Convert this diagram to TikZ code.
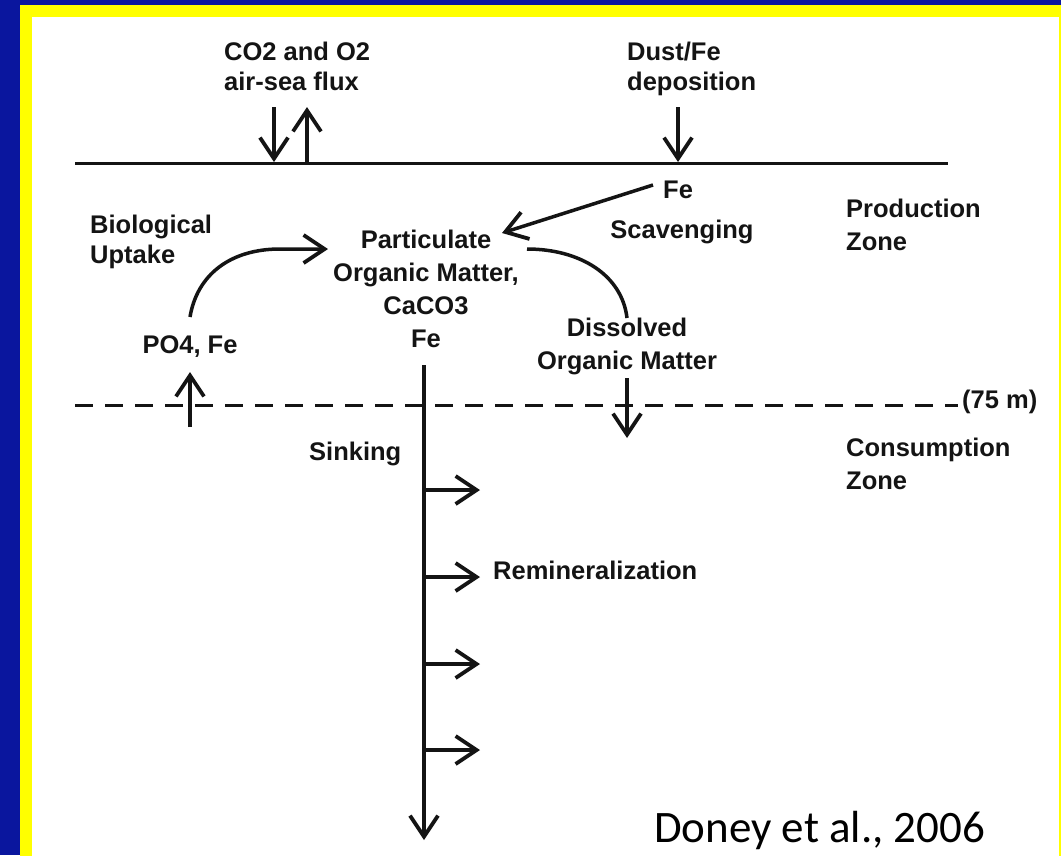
\documentclass[tikz,border=0pt]{standalone}
\usepackage{fontspec}
\setmainfont{Liberation Sans}
\newfontfamily\doneyfont{Carlito}
\usetikzlibrary{arrows.meta}
\definecolor{bgblue}{HTML}{0A169E}
\definecolor{frameyellow}{HTML}{FFFF00}
\definecolor{ink}{HTML}{141414}
\begin{document}
\begin{tikzpicture}[x=1pt,y=-1pt,
  lbl/.style={font=\fontsize{25.5}{33}\selectfont\bfseries, text=ink, inner sep=0pt, align=left},
  lbltight/.style={lbl, font=\fontsize{25.5}{30}\selectfont\bfseries},
  lblc/.style={lbl, align=center},
  flow/.style={draw=ink, line width=3.5pt},
  arr/.style={flow, -{Straight Barb[length=21pt,width=28pt,line width=3.8pt]}},
  surface/.style={draw=ink, line width=3pt},
  boundary/.style={draw=ink, line width=3pt, dash pattern=on 18pt off 12pt}
]
% background and frame
\useasboundingbox (0,0) rectangle (1061,855);
\fill[bgblue] (0,0) rectangle (1061,855);
\fill[frameyellow] (20,5) rectangle (1075,870);
\fill[white] (32,17) rectangle (1059,870);

% sea surface and 75 m boundary
\coordinate (sL) at (75,163);
\coordinate (sR) at (948,163);
\draw[surface] (sL) -- (sR);
\coordinate (dL) at (75,405);
\coordinate (dR) at (958,405);
\draw[boundary] (dL) -- (dR);

% labels (multi-line nodes are anchored at the baseline of their last line)
\node[lbltight, anchor=base west] (co2) at (224,90) {CO2 and O2\\air-sea flux};
\node[lbltight, anchor=base west] (dust) at (627,90) {Dust/Fe\\deposition};
\node[lbl, anchor=base west] (fe) at (663,198) {Fe};
\node[lbl, anchor=base] (scav) at (682,238) {Scavenging};
\node[lbl, anchor=base west] (prod) at (846,250) {Production\\Zone};
\node[lbltight, anchor=base west] (bio) at (90,263) {Biological\\Uptake};
\node[lblc, anchor=base] (pom) at (426,347) {Particulate\\Organic Matter,\\CaCO3\\Fe};
\node[lblc, anchor=base] (dom) at (627,369) {Dissolved\\Organic Matter};
\node[lbl, anchor=base] (po4) at (190,353) {PO4, Fe};
\node[lbl, anchor=base west] (depth) at (962,408) {(75 m)};
\node[lbl, anchor=base west] (cons) at (846,489) {Consumption\\Zone};
\node[lbl, anchor=base west] (sink) at (309,460) {Sinking};
\node[lbl, anchor=base west] (remin) at (493,579) {Remineralization};
\node[anchor=base west, inner sep=0pt, font=\doneyfont\fontsize{45}{52}\selectfont, text=black] (doney) at (654,842) {Doney et al., 2006};

% air-sea flux arrows
\coordinate (c1a) at (274,107); \coordinate (c1b) at (274,162);
\coordinate (c2a) at (307,163); \coordinate (c2b) at (307,107);
\draw[arr] (c1a) -- (c1b);
\draw[arr] (c2a) -- (c2b);
% dust deposition
\coordinate (d1a) at (678,107); \coordinate (d1b) at (678,162);
\draw[arr] (d1a) -- (d1b);
% Fe scavenging
\coordinate (fea) at (653,185); \coordinate (feb) at (502,233);
\draw[arr] (fea) -- (feb);
% biological uptake
\coordinate (bua) at (190,317); \coordinate (bum) at (280,249); \coordinate (bub) at (328,249);
\draw[arr] (bua) .. controls (197,275) and (230,249) .. (bum) -- (bub);
% DOM production
\coordinate (doa) at (527,249); \coordinate (dob) at (627,318);
\draw[flow] (doa) .. controls (580,249) and (622,275) .. (dob);
% DOM export
\coordinate (dea) at (627,378); \coordinate (deb) at (627,438);
\draw[arr] (dea) -- (deb);
% nutrient supply
\coordinate (pua) at (190,427); \coordinate (pub) at (190,372);
\draw[arr] (pua) -- (pub);
% sinking
\coordinate (ska) at (424,365); \coordinate (skb) at (424,840);
\draw[arr] (ska) -- (skb);
% remineralization
\foreach \y/\n in {490/1,577/2,664/3,750/4}{
  \coordinate (r\n a) at (424,\y); \coordinate (r\n b) at (480,\y);
  \draw[arr] (r\n a) -- (r\n b);
}
\end{tikzpicture}
\end{document}
